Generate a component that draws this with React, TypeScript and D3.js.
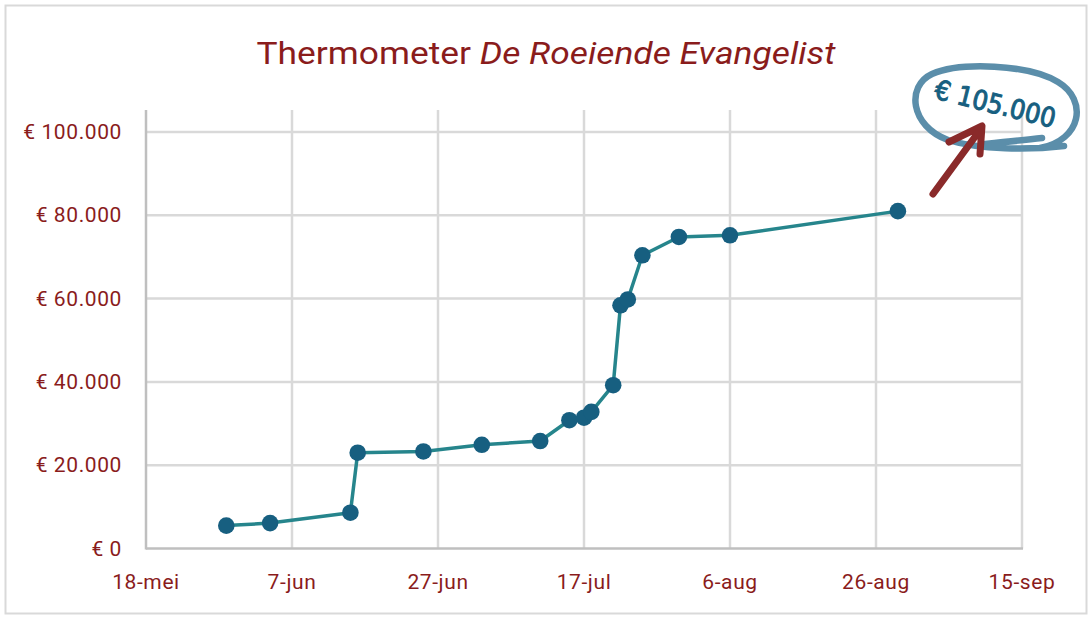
import React, { useEffect, useRef } from 'react';
import * as d3 from 'd3';

// donation totals per date (2024)
const dates = [
  '2024-05-29', '2024-06-04', '2024-06-15', '2024-06-16', '2024-06-25',
  '2024-07-03', '2024-07-11', '2024-07-15', '2024-07-17', '2024-07-18',
  '2024-07-21', '2024-07-22', '2024-07-23', '2024-07-25', '2024-07-30',
  '2024-08-06', '2024-08-29',
];
const totals = [
  5500, 6100, 8600, 23000, 23300,
  24900, 25800, 30800, 31400, 32800,
  39200, 58400, 59800, 70400, 74800,
  75200, 81000,
];
const xTickDates = ['2024-05-18', '2024-06-07', '2024-06-27', '2024-07-17', '2024-08-06', '2024-08-26', '2024-09-15'];
const yTicks = [0, 20000, 40000, 60000, 80000, 100000];
const goalLabel = '€ 105.000';

const RED = '#8a1c1c';
const FONT = 'Roboto, sans-serif';

const nl = d3.timeFormatLocale({
  dateTime: '%a %e %B %Y %X',
  date: '%d-%m-%Y',
  time: '%H:%M:%S',
  periods: ['AM', 'PM'],
  days: ['zondag', 'maandag', 'dinsdag', 'woensdag', 'donderdag', 'vrijdag', 'zaterdag'],
  shortDays: ['zo', 'ma', 'di', 'wo', 'do', 'vr', 'za'],
  months: ['januari', 'februari', 'maart', 'april', 'mei', 'juni', 'juli', 'augustus', 'september', 'oktober', 'november', 'december'],
  shortMonths: ['jan', 'feb', 'mrt', 'apr', 'mei', 'jun', 'jul', 'aug', 'sep', 'okt', 'nov', 'dec'],
});
const euro = d3.formatLocale({ decimal: ',', thousands: '.', grouping: [3], currency: ['€ ', ''] });

const App: React.FC = () => {
  const ref = useRef<SVGSVGElement>(null);

  useEffect(() => {
    if (!ref.current) return;
    const svg = d3.select(ref.current);
    svg.selectAll('*').remove();

    const parse = d3.timeParse('%Y-%m-%d');
    const data = dates.map((d, i) => ({ date: parse(d) as Date, value: totals[i] }));
    const xt = xTickDates.map((d) => parse(d) as Date);

    const left = 146;
    const right = 1022;
    const top = 110;
    const bottom = 548.5;

    const x = d3.scaleTime().domain([xt[0], xt[xt.length - 1]]).range([left, right]);
    const y = d3.scaleLinear().domain([0, 100000]).range([bottom, bottom - 5 * 83.3]);

    // chart frame
    svg.append('rect')
      .attr('x', 5.5).attr('y', 5.5).attr('width', 1081).attr('height', 608)
      .attr('fill', '#fff').attr('stroke', '#d9d9d9').attr('stroke-width', 2);

    // title
    const title = svg.append('text')
      .attr('x', 546).attr('y', 64).attr('text-anchor', 'middle')
      .attr('font-family', FONT).attr('font-size', 31).attr('fill', RED)
      .attr('textLength', 579).attr('lengthAdjust', 'spacingAndGlyphs');
    title.append('tspan').text('Thermometer ');
    title.append('tspan').attr('font-style', 'italic').text('De Roeiende Evangelist');

    // gridlines
    svg.append('g').selectAll('line').data(yTicks.slice(1)).enter().append('line')
      .attr('x1', left).attr('x2', right)
      .attr('y1', (d) => y(d)).attr('y2', (d) => y(d))
      .attr('stroke', '#d9d9d9').attr('stroke-width', 2.5);
    svg.append('g').selectAll('line').data(xt.slice(1)).enter().append('line')
      .attr('x1', (d) => x(d)).attr('x2', (d) => x(d))
      .attr('y1', top).attr('y2', bottom)
      .attr('stroke', '#d9d9d9').attr('stroke-width', 2.5);

    // axes lines
    svg.append('line').attr('x1', left).attr('x2', left).attr('y1', top).attr('y2', bottom + 1)
      .attr('stroke', '#bfbfbf').attr('stroke-width', 2.5);
    svg.append('line').attr('x1', left).attr('x2', right + 1).attr('y1', bottom).attr('y2', bottom)
      .attr('stroke', '#bfbfbf').attr('stroke-width', 2.5);

    // tick labels
    const fmtY = euro.format('$,');
    svg.append('g').selectAll('text').data(yTicks).enter().append('text')
      .attr('x', 122).attr('y', (d) => y(d) + 7).attr('text-anchor', 'end')
      .attr('font-family', FONT).attr('font-size', 21).attr('letter-spacing', 0.6).attr('fill', RED)
      .text((d) => fmtY(d));
    const fmtX = nl.format('%-d-%b');
    svg.append('g').selectAll('text').data(xt).enter().append('text')
      .attr('x', (d) => x(d)).attr('y', 589).attr('text-anchor', 'middle')
      .attr('font-family', FONT).attr('font-size', 21).attr('letter-spacing', 0.6).attr('fill', RED)
      .text((d) => fmtX(d));

    // series
    const line = d3.line<{ date: Date; value: number }>()
      .x((d) => x(d.date)).y((d) => y(d.value));
    svg.append('path').datum(data).attr('d', line)
      .attr('fill', 'none').attr('stroke', '#26858c').attr('stroke-width', 3.5)
      .attr('stroke-linejoin', 'round');
    svg.append('g').selectAll('circle').data(data).enter().append('circle')
      .attr('cx', (d) => x(d.date)).attr('cy', (d) => y(d.value)).attr('r', 8.3)
      .attr('fill', '#175f80');

    // hand-drawn goal annotation
    const ann = svg.append('g');
    ann.append('path')
      .attr('d', 'M 1040 148 C 1082 140 1088 100 1058 82 C 1028 64 960 62 932 74 C 906 86 910 126 948 140 C 980 150 1030 150 1064 146 M 985 144 C 1005 142 1025 140 1042 138')
      .attr('fill', 'none').attr('stroke', '#5b8eaa').attr('stroke-width', 6.5)
      .attr('stroke-linecap', 'round');
    ann.append('text')
      .attr('transform', 'translate(993,113) rotate(14)')
      .attr('text-anchor', 'middle')
      .attr('font-family', "'DejaVu Sans Condensed', 'DejaVu Sans', sans-serif")
      .attr('font-size', 27).attr('fill', '#175f80')
      .attr('stroke', '#175f80').attr('stroke-width', 1)
      .text(goalLabel);
    ann.append('path')
      .attr('d', 'M 933 194 L 980 130 M 949 142 L 982 126 L 980 154')
      .attr('fill', 'none').attr('stroke', '#8a2a2a').attr('stroke-width', 7)
      .attr('stroke-linecap', 'round').attr('stroke-linejoin', 'round');
  }, []);

  return (
    <svg
      ref={ref}
      width={1092}
      height={620}
      style={{ position: 'absolute', left: 0, top: 0, background: '#fff' }}
    />
  );
};

export default App;
